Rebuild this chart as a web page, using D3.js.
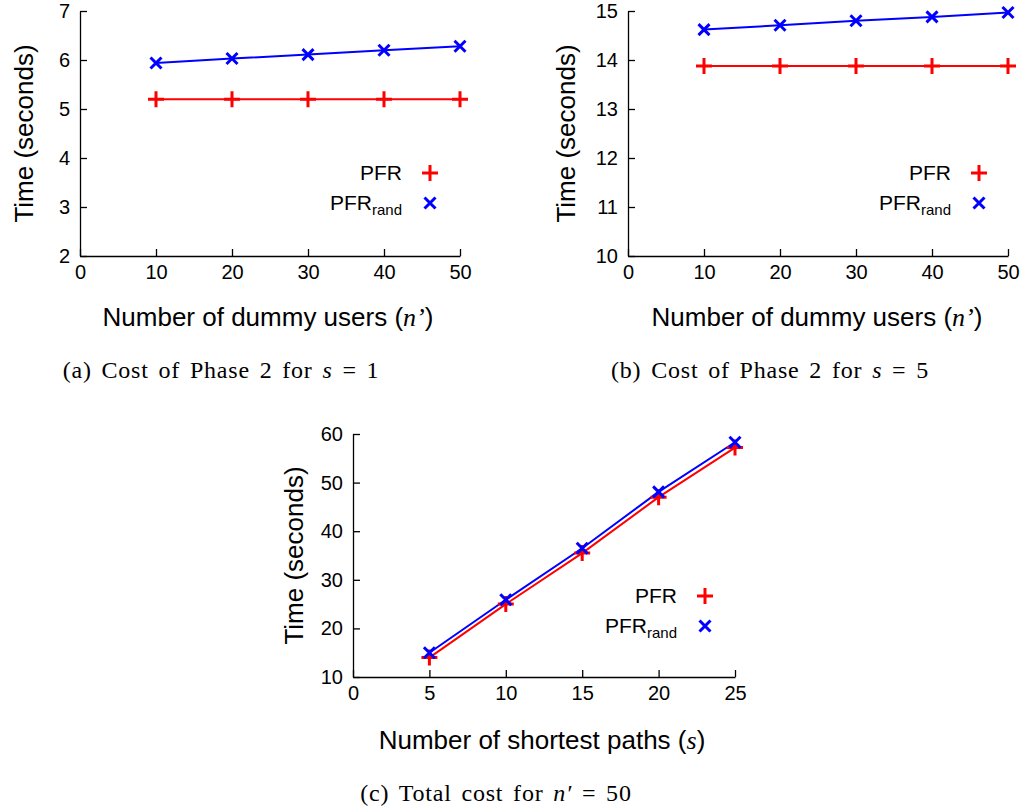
<!DOCTYPE html>
<html>
<head>
<meta charset="utf-8">
<script src="https://cdn.jsdelivr.net/npm/d3@7"></script>
<style>
  body { margin: 0; background: #fff; }
  svg text { font-family: "Liberation Sans", Arial, sans-serif; fill: #000; }
  .serif { font-family: "Liberation Serif", "DejaVu Serif", serif; }
</style>
</head>
<body>
<script>
// data
const dummyUsers = [10, 20, 30, 40, 50];
const pfrS1 = [5.2, 5.2, 5.2, 5.2, 5.2];
const pfrRandS1 = [5.94, 6.03, 6.11, 6.20, 6.28];
const pfrS5 = [13.88, 13.88, 13.88, 13.88, 13.88];
const pfrRandS5 = [14.62, 14.71, 14.80, 14.88, 14.97];
const shortestPaths = [5, 10, 15, 20, 25];
const pfrTotal = [14.0, 25.0, 35.5, 47.0, 57.2];
const pfrRandTotal = [15.0, 25.9, 36.5, 48.1, 58.3];

const ticksA = [0, 10, 20, 30, 40, 50];
const yTicksA = [2, 3, 4, 5, 6, 7];
const yTicksB = [10, 11, 12, 13, 14, 15];
const ticksC = [0, 5, 10, 15, 20, 25];
const yTicksC = [10, 20, 30, 40, 50, 60];

const w = 1033, h = 809;
const red = "#ff0000", blue = "#0000ff";

const svg = d3.select("body").append("svg")
  .attr("width", w)
  .attr("height", h);

// draws one little chart, o holds where it goes
function panel(o) {
  const g = svg.append("g");
  const x = d3.scaleLinear().domain(o.xDomain).range([o.left, o.right]);
  const y = d3.scaleLinear().domain(o.yDomain).range([o.bottom, o.top]);

  const axisX = d3.axisBottom(x).tickValues(o.xTicks).tickFormat(d3.format("d"))
    .tickSizeInner(-7).tickSizeOuter(0).tickPadding(7);
  const axisY = d3.axisLeft(y).tickValues(o.yTicks).tickFormat(d3.format("d"))
    .tickSizeInner(-7).tickSizeOuter(0).tickPadding(10);

  const gx = g.append("g").attr("transform", `translate(0, ${o.bottom})`).call(axisX);
  const gy = g.append("g").attr("transform", `translate(${o.left}, 0)`).call(axisY);
  [gx, gy].forEach(a => {
    a.selectAll("path, line").attr("stroke", "#000").attr("stroke-width", 1.3);
    a.selectAll("text").attr("font-size", 20).attr("font-family", "Liberation Sans, Arial, sans-serif").attr("fill", "#000");
  });
  gx.selectAll("text").attr("dy", "0.8em");

  const line = d3.line().x((d, i) => x(o.xs[i])).y(d => y(d));

  g.append("path").datum(o.pfr).attr("d", line)
    .attr("fill", "none").attr("stroke", red).attr("stroke-width", 2);
  g.append("path").datum(o.rand).attr("d", line)
    .attr("fill", "none").attr("stroke", blue).attr("stroke-width", 2);

  const plus = (sel, cx, cy) => sel.append("path")
    .attr("d", `M${cx - 8},${cy}H${cx + 8}M${cx},${cy - 8}V${cy + 8}`)
    .attr("stroke", red).attr("stroke-width", 3).attr("fill", "none");
  const cross = (sel, cx, cy) => sel.append("path")
    .attr("d", `M${cx - 5.5},${cy - 5.5}L${cx + 5.5},${cy + 5.5}M${cx - 5.5},${cy + 5.5}L${cx + 5.5},${cy - 5.5}`)
    .attr("stroke", blue).attr("stroke-width", 3).attr("fill", "none");

  o.pfr.forEach((v, i) => plus(g, x(o.xs[i]), y(v)));
  o.rand.forEach((v, i) => cross(g, x(o.xs[i]), y(v)));

  // legend
  g.append("text").attr("x", o.legX).attr("y", o.legY + 7)
    .attr("text-anchor", "end").attr("font-size", 21).text("PFR");
  plus(g, o.legX + 28, o.legY);
  const t = g.append("text").attr("x", o.legX).attr("y", o.legY + 37)
    .attr("text-anchor", "end").attr("font-size", 21);
  t.append("tspan").text("PFR");
  t.append("tspan").attr("font-size", 15).attr("dy", 5).text("rand");
  cross(g, o.legX + 28, o.legY + 30);

  // y title
  g.append("text")
    .attr("transform", `translate(${o.yTitleX}, ${(o.top + o.bottom) / 2}) rotate(-90)`)
    .attr("text-anchor", "middle").attr("font-size", 26).text("Time (seconds)");

  // x title
  const xt = g.append("text").attr("x", o.xTitleX).attr("y", o.xTitleY)
    .attr("text-anchor", "middle").attr("font-size", 26);
  xt.append("tspan").text(o.xTitle);
  xt.append("tspan").text("(");
  xt.append("tspan").attr("class", "serif").attr("font-style", "italic").text(o.xVar);
  xt.append("tspan").text(")");

  // caption
  const cap = g.append("text").attr("class", "serif").attr("x", o.capX).attr("y", o.capY)
    .attr("text-anchor", "middle").attr("font-size", 24)
    .attr("letter-spacing", 0.8).attr("word-spacing", 3);
  cap.append("tspan").text(o.cap1);
  cap.append("tspan").attr("font-style", "italic").text(o.capVar);
  cap.append("tspan").text(o.cap2);
}

panel({
  xs: dummyUsers, pfr: pfrS1, rand: pfrRandS1,
  xDomain: [0, 50], yDomain: [2, 7], xTicks: ticksA, yTicks: yTicksA,
  left: 80, right: 460, top: 11, bottom: 256,
  legX: 402, legY: 173,
  yTitleX: 33, xTitleX: 268, xTitleY: 326, xTitle: "Number of dummy users ", xVar: "n’",
  capX: 221, capY: 378, cap1: "(a)  Cost of Phase 2 for ", capVar: "s", cap2: " = 1"
});

panel({
  xs: dummyUsers, pfr: pfrS5, rand: pfrRandS5,
  xDomain: [0, 50], yDomain: [10, 15], xTicks: ticksA, yTicks: yTicksB,
  left: 628, right: 1008, top: 11, bottom: 256,
  legX: 951, legY: 173,
  yTitleX: 575, xTitleX: 817, xTitleY: 326, xTitle: "Number of dummy users ", xVar: "n’",
  capX: 770, capY: 378, cap1: "(b)  Cost of Phase 2 for ", capVar: "s", cap2: " = 5"
});

panel({
  xs: shortestPaths, pfr: pfrTotal, rand: pfrRandTotal,
  xDomain: [0, 25], yDomain: [10, 60], xTicks: ticksC, yTicks: yTicksC,
  left: 353, right: 735, top: 434, bottom: 677,
  legX: 677, legY: 596,
  yTitleX: 303, xTitleX: 542, xTitleY: 749, xTitle: "Number of shortest paths ", xVar: "s",
  capX: 496, capY: 801, cap1: "(c)  Total cost for ", capVar: "n′", cap2: " = 50"
});
</script>
</body>
</html>
